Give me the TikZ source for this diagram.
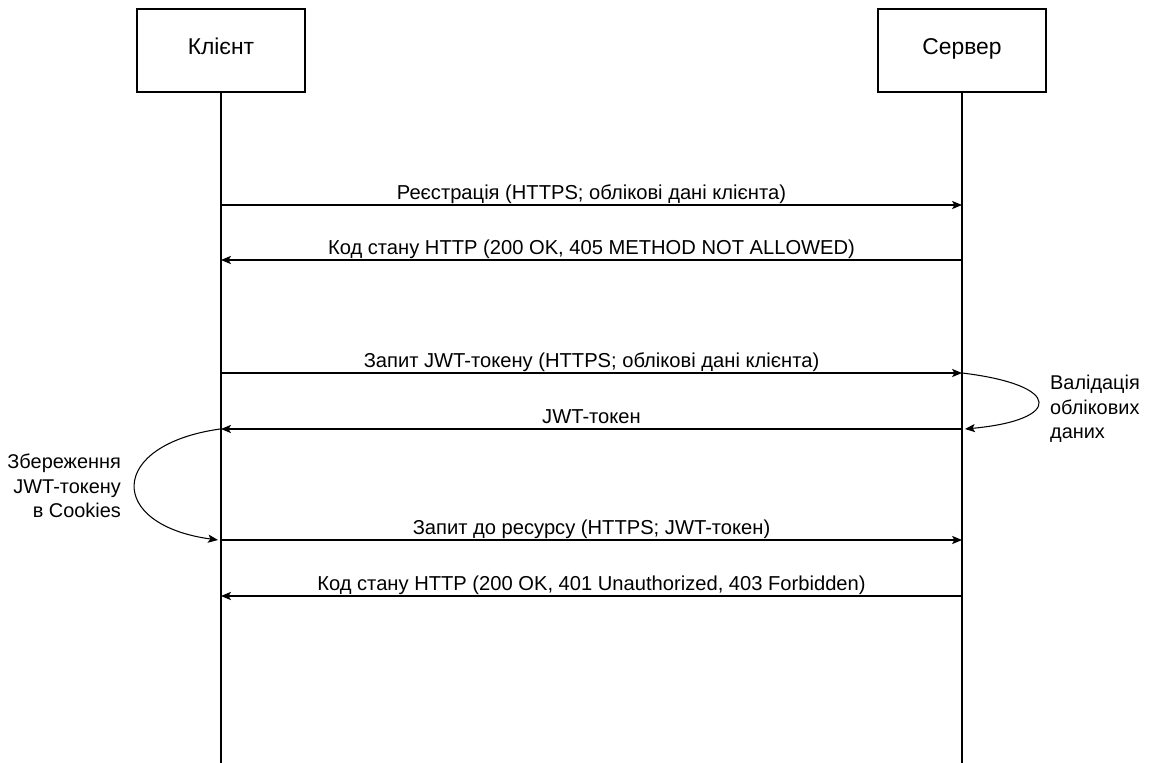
\documentclass[tikz,border=0pt]{standalone}
\usepackage{fontspec}
\setmainfont{Liberation Sans}
\usetikzlibrary{arrows.meta, positioning, calc}
\tikzset{
  actor/.style={
    rectangle,
    draw=black,
    fill=white,
    line width=0.9pt,
    minimum width=168*0.03cm,
    minimum height=83*0.03cm,
    text height=0.72em,
    text depth=0pt,
    font=\fontsize{19.5}{23}\selectfont
  },
  lifeline/.style={
    line width=0.9pt,
    black
  },
  msg/.style={
    line width=0.9pt,
    -{Stealth[length=8.5pt, width=7pt, inset=2pt]}
  },
  msglabel/.style={
    above,
    inner sep=4pt,
    text depth=0pt,
    font=\fontsize{17.2}{21}\selectfont
  },
  note/.style={
    align=left,
    font=\fontsize{17}{21}\selectfont
  }
}

\begin{document}
\begin{tikzpicture}[x=0.03cm, y=-0.03cm]
  \useasboundingbox (0,0) rectangle (1155,763);

  % ACTORS
  \node (client) [actor] at (221,50.5) {Клієнт};
  \node (server) [actor] at (962,50.5) {Сервер};

  \coordinate (client_end) at (221,763);
  \coordinate (server_end) at (962,763);

  \draw[lifeline] (client.south) -- (client_end);
  \draw[lifeline] (server.south) -- (server_end);

  % MESSAGE POINTS
  \coordinate (c1) at (client |- 0,205);
  \coordinate (s1) at (server |- 0,205);
  \coordinate (c2) at (client |- 0,260);
  \coordinate (s2) at (server |- 0,260);
  \coordinate (c3) at (client |- 0,373);
  \coordinate (s3) at (server |- 0,373);
  \coordinate (c4) at (client |- 0,429);
  \coordinate (s4) at (server |- 0,429);
  \coordinate (c5) at (client |- 0,540);
  \coordinate (s5) at (server |- 0,540);
  \coordinate (c6) at (client |- 0,596);
  \coordinate (s6) at (server |- 0,596);

  % REGISTRATION
  \draw[msg] (c1) -- node[msglabel] {Реєстрація (HTTPS; облікові дані клієнта)} (s1);
  \draw[msg] (s2) -- node[msglabel] {Код стану HTTP (200 OK, 405 METHOD NOT ALLOWED)} (c2);

  % TOKEN
  \draw[msg] (c3) -- node[msglabel] {Запит JWT-токену (HTTPS; облікові дані клієнта)} (s3);
  \draw[msg] (s4) -- node[msglabel] {JWT-токен} (c4);

  \draw[msg] (s3) .. controls ($(s3)+(101,12)$) and ($(s4)+(101,-9)$) .. ($(s4)+(3,0)$);
  \node (validate) [note, anchor=west] at (1046,409) {Валідація\\облікових\\даних};

  \draw[msg] ($(c4)+(-1,0)$) .. controls ($(c4)+(-114,16)$) and ($(c5)+(-114,-15)$) .. ($(c5)+(-3,0)$);
  \node (store) [note, align=right, anchor=east] at (125,486) {Збереження\\JWT-токену\\в Cookies};

  % RESOURCE
  \draw[msg] (c5) -- node[msglabel] {Запит до ресурсу (HTTPS; JWT-токен)} (s5);
  \draw[msg] (s6) -- node[msglabel] {Код стану HTTP (200 OK, 401 Unauthorized, 403 Forbidden)} (c6);

\end{tikzpicture}
\end{document}
